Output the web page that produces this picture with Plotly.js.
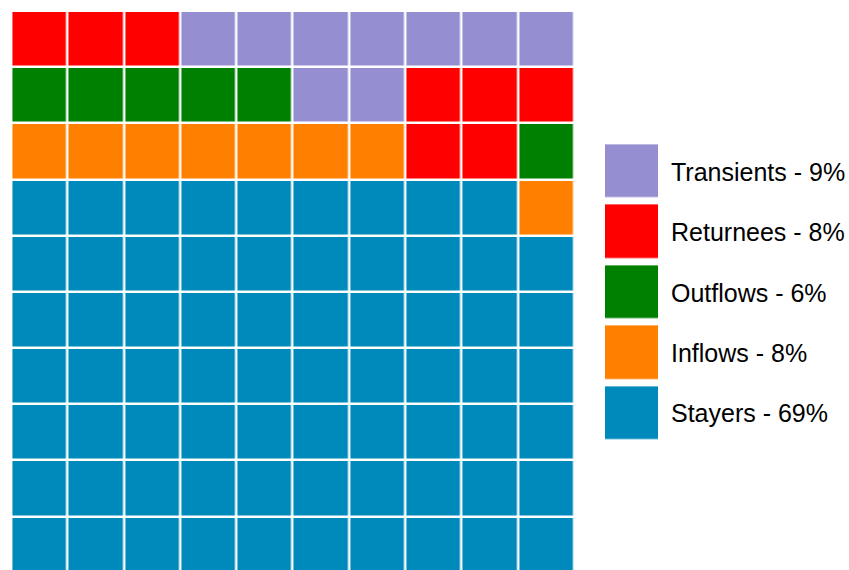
<!DOCTYPE html>
<html>
<head>
<meta charset="utf-8">
<script src="https://cdn.plot.ly/plotly-3.0.1.min.js"></script>
<style>html,body{margin:0;padding:0;background:#fff;}#chart{width:849px;height:570px;}</style>
</head>
<body>
<div id="chart"></div>
<script>
// Categories (legend order, top to bottom)
const categories = ["Transients", "Returnees", "Outflows", "Inflows", "Stayers"];
const codes = ["T", "R", "O", "I", "S"];
const percents = [9, 8, 6, 8, 69];
const colors = ["#958FD2", "#FF0000", "#008000", "#FF8000", "#008ABC"];

// Waffle grid, rows top to bottom, one letter per cell
const gridRows = [
  "RRRTTTTTTT",
  "OOOOOTTRRR",
  "IIIIIIIRRO",
  "SSSSSSSSSI",
  "SSSSSSSSSS",
  "SSSSSSSSSS",
  "SSSSSSSSSS",
  "SSSSSSSSSS",
  "SSSSSSSSSS",
  "SSSSSSSSSS"
];

const n = categories.length;
const colorscale = [];
colors.forEach((c, i) => {
  colorscale.push([i / n, c]);
  colorscale.push([(i + 1) / n, c]);
});

const z = gridRows.map(r => r.split("").map(ch => codes.indexOf(ch)));
const cols = gridRows[0].length;
const xs = Array.from({length: cols}, (_, i) => i);
const ys = gridRows.map((_, i) => i);

const waffle = {
  type: "heatmap", z: z, x: xs, y: ys,
  zmin: -0.5, zmax: n - 0.5, colorscale: colorscale, showscale: false,
  xgap: 2.5, ygap: 2.5, hoverinfo: "skip", xaxis: "x", yaxis: "y"
};

const legendZ = categories.map((_, i) => [i]);
const legendHeat = {
  type: "heatmap", z: legendZ, x: [0], y: categories.map((_, i) => i),
  zmin: -0.5, zmax: n - 0.5, colorscale: colorscale, showscale: false,
  ygap: 7.3, hoverinfo: "skip", xaxis: "x2", yaxis: "y2"
};

const W = 849, H = 570;
const hidden = {showgrid: false, zeroline: false, showticklabels: false, ticks: "", showline: false, fixedrange: true};

const annotations = categories.map((c, i) => ({
  xref: "paper", yref: "y2", x: 668.5 / W, y: i,
  xanchor: "left", yanchor: "middle", showarrow: false,
  text: c + " - " + percents[i] + "%",
  font: {family: "Liberation Sans, Arial, sans-serif", size: 25, color: "#000"}
}));

const layout = {
  width: W, height: H,
  margin: {l: 0, r: 0, t: 0, b: 0},
  paper_bgcolor: "#fff", plot_bgcolor: "#fff",
  showlegend: false,
  xaxis: Object.assign({domain: [11.4 / W, 574.3 / W], range: [-0.5, cols - 0.5]}, hidden),
  yaxis: Object.assign({domain: [0, 1 - 11 / H], range: [9.45, -0.5]}, hidden),
  xaxis2: Object.assign({domain: [605 / W, 658 / W], range: [-0.5, 0.5], anchor: "y2"}, hidden),
  yaxis2: Object.assign({domain: [1 - 443.65 / H, 1 - 141.35 / H], range: [n - 0.5, -0.5], anchor: "x2"}, hidden),
  annotations: annotations
};

Plotly.newPlot("chart", [waffle, legendHeat], layout, {displayModeBar: false, staticPlot: true});
</script>
</body>
</html>
